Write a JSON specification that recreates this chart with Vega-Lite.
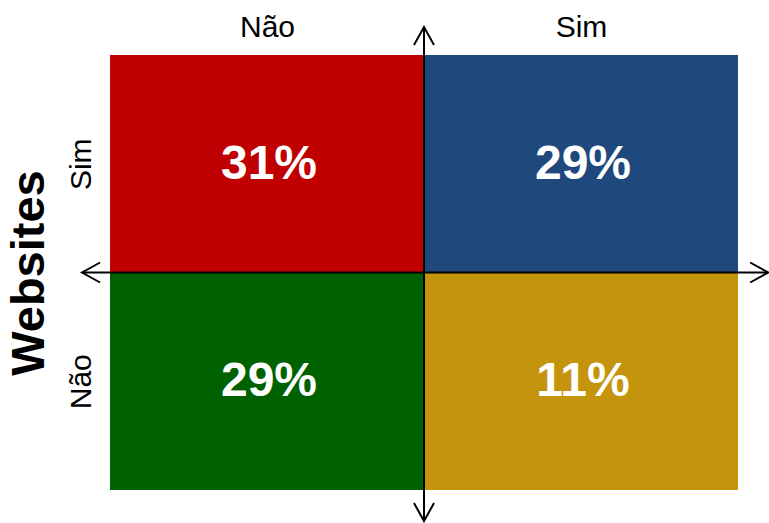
{
  "$schema": "https://vega.github.io/schema/vega-lite/v6.json",
  "width": 628,
  "height": 435,
  "autosize": {"type": "none"},
  "padding": {"left": 110, "top": 55, "right": 31, "bottom": 33},
  "background": "white",
  "config": {
    "font": "Liberation Sans",
    "view": {"stroke": null}
  },
  "datasets": {
    "cells": [
      {"x": -1, "x2": 0, "y": 0, "y2": 1, "cell": "Não-Sim", "label": "31%"},
      {"x": 0, "x2": 1, "y": 0, "y2": 1, "cell": "Sim-Sim", "label": "29%"},
      {"x": -1, "x2": 0, "y": -1, "y2": 0, "cell": "Não-Não", "label": "29%"},
      {"x": 0, "x2": 1, "y": -1, "y2": 0, "cell": "Sim-Não", "label": "11%"}
    ],
    "lines": [
      {"x": 0, "x2": 0, "y": -1.143, "y2": 1.129},
      {"x": -1.089, "x2": 1.096, "y": 0, "y2": 0}
    ],
    "heads": [
      {"x": 0, "y": 1.129, "angle": 270},
      {"x": 0, "y": -1.143, "angle": 90},
      {"x": -1.089, "y": 0, "angle": 180},
      {"x": 1.096, "y": 0, "angle": 0}
    ]
  },
  "layer": [
    {
      "data": {"name": "cells"},
      "mark": {"type": "rect", "clip": false},
      "encoding": {
        "x": {
          "field": "x", "type": "quantitative",
          "scale": {"domain": [-1, 1], "nice": false, "zero": false},
          "axis": {
            "orient": "top", "values": [-0.5, 0.5],
            "labelExpr": "datum.value < 0 ? 'Não' : 'Sim'",
            "domain": false, "ticks": false, "tickSize": 0, "grid": false,
            "labelFontSize": 30, "labelColor": "black", "labelPadding": 19,
            "labelBaseline": "alphabetic", "labelAlign": "center",
            "title": null
          }
        },
        "x2": {"field": "x2"},
        "y": {
          "field": "y", "type": "quantitative",
          "scale": {"domain": [-1, 1], "nice": false, "zero": false},
          "axis": {
            "orient": "left", "values": [-0.5, 0.5],
            "labelExpr": "datum.value < 0 ? 'Não' : 'Sim'",
            "domain": false, "ticks": false, "tickSize": 0, "grid": false,
            "labelFontSize": 30, "labelColor": "black", "labelPadding": 20,
            "labelAngle": -90, "labelBaseline": "alphabetic", "labelAlign": "center",
            "title": "Websites", "titleFontSize": 47, "titleFontWeight": "bold",
            "titleColor": "black", "titlePadding": 13
          }
        },
        "y2": {"field": "y2"},
        "color": {
          "field": "cell", "type": "nominal", "legend": null,
          "scale": {
            "domain": ["Não-Sim", "Sim-Sim", "Não-Não", "Sim-Não"],
            "range": ["#C00000", "#1F497D", "#006100", "#C4950C"]
          }
        }
      }
    },
    {
      "data": {"name": "cells"},
      "transform": [
        {"calculate": "(datum.x + datum.x2) / 2", "as": "cx"},
        {"calculate": "(datum.y + datum.y2) / 2", "as": "cy"}
      ],
      "mark": {"type": "text", "color": "white", "fontSize": 48, "fontWeight": "bold", "baseline": "middle", "align": "center", "dx": 2, "dy": 1},
      "encoding": {
        "x": {"field": "cx", "type": "quantitative"},
        "y": {"field": "cy", "type": "quantitative"},
        "text": {"field": "label"}
      }
    },
    {
      "data": {"name": "lines"},
      "mark": {"type": "rule", "color": "black", "strokeWidth": 2, "clip": false},
      "encoding": {
        "x": {"field": "x", "type": "quantitative"},
        "x2": {"field": "x2"},
        "y": {"field": "y", "type": "quantitative"},
        "y2": {"field": "y2"}
      }
    },
    {
      "data": {"name": "heads"},
      "mark": {"type": "point", "shape": "M-1.8,-1L0,0L-1.8,1", "filled": false, "stroke": "black", "strokeWidth": 2, "size": 400, "opacity": 1, "clip": false},
      "encoding": {
        "x": {"field": "x", "type": "quantitative"},
        "y": {"field": "y", "type": "quantitative"},
        "angle": {"field": "angle", "type": "quantitative", "scale": null}
      }
    }
  ]
}
